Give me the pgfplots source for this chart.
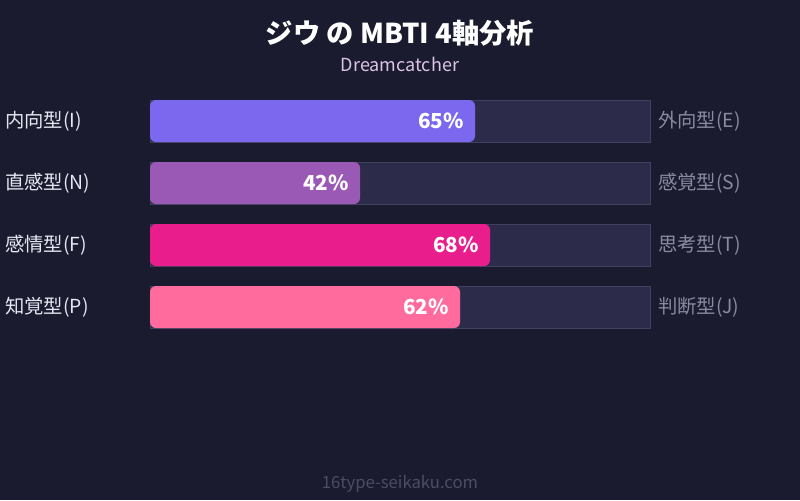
\documentclass[border=0pt]{standalone}
\usepackage{fontspec}
\setmainfont{Noto Sans CJK JP}
\usepackage{pgfplots}
\pgfplotsset{compat=1.18}

\definecolor{bgdark}{HTML}{1A1B2E}
\definecolor{track}{HTML}{2D2B4A}
\definecolor{trackline}{HTML}{414060}
\definecolor{barIE}{HTML}{7B68EE}
\definecolor{barNS}{HTML}{9B59B6}
\definecolor{barFT}{HTML}{E91E8C}
\definecolor{barPJ}{HTML}{FF6B9D}
\definecolor{lefttxt}{HTML}{E6E6F2}
\definecolor{righttxt}{HTML}{8A8AA2}
\definecolor{subtxt}{HTML}{DCC4E8}
\definecolor{foottxt}{HTML}{4C4C68}

\pgfplotsset{
    valbar/.style={fill=#1, draw=none, rounded corners=4.5pt,
        nodes near coords={\pgfmathprintnumber[precision=0]{\pgfplotspointmeta}\%},
        nodes near coords style={anchor=east, xshift=-5pt, text=white,
            font=\fontsize{15.5}{16}\selectfont\bfseries},
        point meta=x},
}

\begin{document}
\begin{tikzpicture}[x=1pt,y=1pt]
% 1px = 0.75pt; x axis in percent (1% = 5px), y axis in px from top
\begin{axis}[
    scale only axis,
    width=600pt, height=375pt,
    xmin=-30, xmax=130,
    ymin=0, ymax=500,
    y dir=reverse,
    hide axis,
    clip=false,
    xbar,
    bar width=42,
    bar shift=0pt,
    /pgf/number format/assume math mode=true,
]
    \fill[bgdark] (axis cs:-30,0) rectangle (axis cs:130,500);

    % tracks
    \addplot[fill=track, draw=trackline, line width=0.6pt] coordinates {
        (100,121) (100,183) (100,245) (100,307)};

    % values
    \addplot[valbar=barIE] coordinates {(65,121)};
    \addplot[valbar=barNS] coordinates {(42,183)};
    \addplot[valbar=barFT] coordinates {(68,245)};
    \addplot[valbar=barPJ] coordinates {(62,307)};

    % titles
    \node[text=white, font=\fontsize{20.5}{21}\selectfont\bfseries] at (axis cs:50,33) {ジウ の MBTI 4軸分析};
    \node[text=subtxt, font=\fontsize{13.5}{14}\selectfont] at (axis cs:50,64) {Dreamcatcher};

    % left labels
    \begin{scope}[every node/.style={anchor=west, inner sep=0pt, text=lefttxt, font=\fontsize{14.5}{15}\selectfont}]
    \node at (axis cs:-29,121) {内向型(I)};
    \node at (axis cs:-29,183) {直感型(N)};
    \node at (axis cs:-29,245) {感情型(F)};
    \node at (axis cs:-29,307) {知覚型(P)};
    \end{scope}
    % right labels
    \begin{scope}[every node/.style={anchor=west, inner sep=0pt, text=righttxt, font=\fontsize{14.5}{15}\selectfont}]
    \node at (axis cs:101.6,121) {外向型(E)};
    \node at (axis cs:101.6,183) {感覚型(S)};
    \node at (axis cs:101.6,245) {思考型(T)};
    \node at (axis cs:101.6,307) {判断型(J)};
    \end{scope}

    \node[text=foottxt, font=\fontsize{12.5}{13}\selectfont] at (axis cs:50,484) {16type-seikaku.com};
\end{axis}
\end{tikzpicture}
\end{document}
